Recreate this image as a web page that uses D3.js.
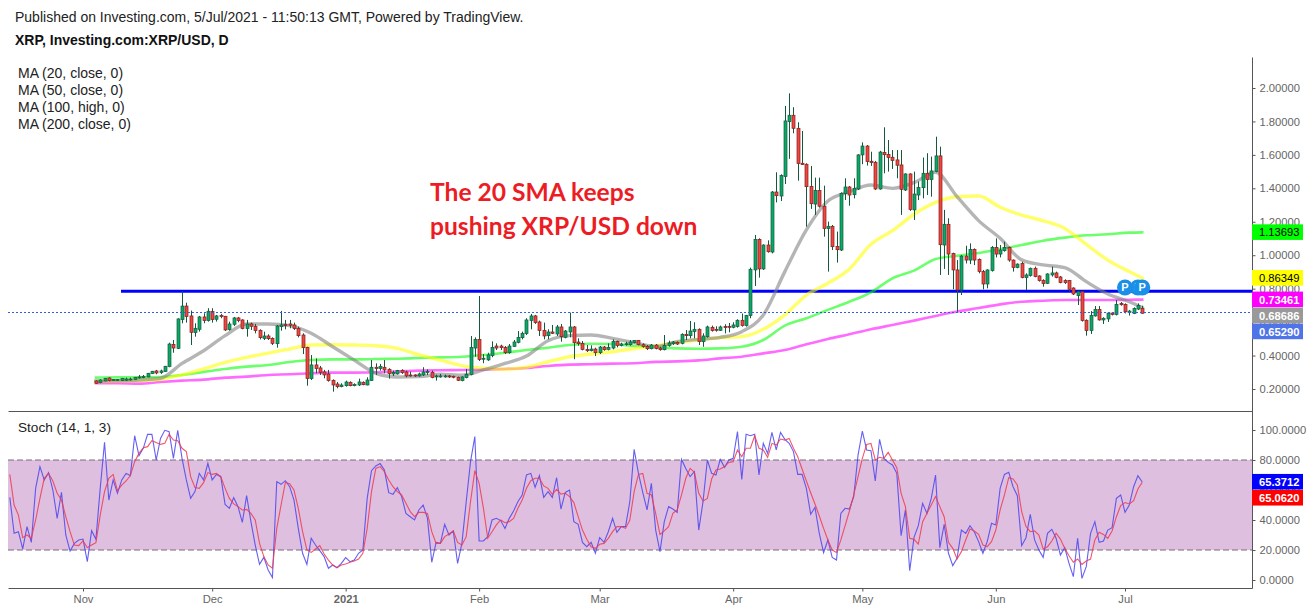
<!DOCTYPE html>
<html>
<head>
<meta charset="utf-8">
<title>XRP/USD</title>
<script src="https://cdn.jsdelivr.net/npm/d3@7"></script>
<style>
  html, body { margin: 0; padding: 0; background: #fff; }
  svg { display: block; }
  text { font-family: "Liberation Sans", Arial, sans-serif; }
</style>
</head>
<body>
<div id="chart"></div>
<script>
// candles, one per day from 4 Nov 2020
const firstCandle = new Date(Date.UTC(2020, 10, 4));
const opens = [
  .248,.238,.248,.266,.250,.250,.250,.252,.254,.256,
  .266,.268,.272,.292,.308,.298,.304,.334,.467,.443,
  .615,.696,.637,.537,.557,.631,.609,.663,.617,.639,
  .635,.555,.587,.625,.613,.561,.589,.575,.551,.503,
  .517,.503,.471,.573,.587,.589,.583,.561,.523,.449,
  .262,.344,.326,.302,.290,.252,.230,.214,.220,.240,
  .220,.224,.240,.224,.250,.330,.322,.330,.318,.290,
  .290,.312,.302,.284,.284,.278,.284,.298,.300,.272,
  .274,.274,.278,.276,.270,.250,.268,.286,.445,.497,
  .378,.374,.400,.457,.457,.449,.417,.455,.479,.507,
  .531,.609,.637,.601,.551,.519,.541,.529,.571,.509,
  .541,.571,.481,.473,.437,.429,.439,.417,.451,.437,
  .445,.485,.461,.465,.465,.477,.491,.465,.455,.441,
  .463,.445,.435,.461,.471,.479,.473,.527,.519,.543,
  .557,.483,.513,.569,.557,.551,.573,.575,.569,.573,
  .611,.579,.639,.912,1.095,.918,1.061,1.019,1.378,1.354,
  1.470,1.799,1.837,1.759,1.550,1.544,1.412,1.306,1.388,1.293,
  1.159,1.173,1.053,1.031,1.368,1.408,1.362,1.396,1.600,1.653,
  1.562,1.556,1.396,1.615,1.603,1.586,1.570,1.540,1.390,1.486,
  1.271,1.360,1.404,1.490,1.452,1.500,1.594,1.061,1.185,1.011,
  .912,.792,.995,.971,1.035,.975,.902,.828,.908,1.047,
  1.007,1.027,1.047,.971,.926,.951,.866,.878,.922,.876,
  .850,.832,.882,.894,.870,.848,.848,.804,.758,.782,
  .611,.549,.637,.676,.613,.619,.654,.646,.712,.706,
  .658,.652,.678,.682
];
const highs = [
  .252,.258,.266,.270,.260,.260,.266,.268,.268,.272,
  .284,.284,.296,.308,.314,.316,.338,.477,.493,.623,
  .784,.716,.669,.593,.637,.653,.683,.683,.643,.649,
  .637,.603,.631,.631,.617,.613,.597,.589,.557,.543,
  .527,.509,.583,.667,.613,.613,.597,.573,.533,.453,
  .403,.383,.338,.314,.314,.258,.242,.234,.250,.246,
  .234,.262,.246,.270,.373,.353,.350,.373,.324,.310,
  .314,.318,.310,.304,.288,.298,.330,.318,.310,.286,
  .290,.286,.284,.280,.274,.276,.320,.517,.509,.756,
  .409,.417,.485,.473,.465,.457,.469,.493,.547,.543,
  .623,.649,.643,.609,.597,.557,.583,.583,.589,.553,
  .657,.577,.503,.487,.463,.461,.447,.457,.457,.473,
  .497,.489,.477,.483,.493,.493,.493,.473,.463,.469,
  .469,.453,.523,.489,.487,.485,.533,.553,.607,.599,
  .563,.533,.579,.579,.575,.579,.587,.595,.599,.617,
  .651,.643,.926,1.121,1.101,1.065,1.089,1.384,1.496,1.484,
  1.893,1.968,1.885,1.795,1.743,1.550,1.534,1.464,1.464,1.416,
  1.201,1.181,1.141,1.376,1.460,1.414,1.460,1.604,1.675,1.659,
  1.619,1.564,1.624,1.765,1.689,1.629,1.629,1.629,1.490,1.490,
  1.500,1.440,1.584,1.610,1.590,1.709,1.649,1.271,1.221,1.015,
  .971,1.001,1.057,1.071,1.041,.981,.912,.916,1.055,1.101,
  1.061,1.081,1.051,.975,.951,.961,.892,.926,.932,.880,
  .856,.892,.932,.902,.876,.856,.852,.808,.788,.786,
  .617,.666,.696,.696,.629,.660,.660,.732,.720,.712,
  .672,.688,.712,.698
];
const lows = [
  .232,.234,.246,.246,.248,.248,.248,.248,.250,.254,
  .262,.264,.270,.290,.288,.290,.302,.330,.417,.439,
  .593,.597,.463,.513,.543,.593,.603,.597,.603,.623,
  .547,.549,.577,.599,.557,.513,.553,.533,.497,.493,
  .493,.463,.447,.549,.557,.563,.553,.509,.409,.220,
  .254,.294,.284,.264,.244,.184,.204,.210,.214,.216,
  .216,.218,.222,.222,.248,.284,.310,.294,.262,.278,
  .286,.290,.270,.274,.272,.274,.278,.284,.264,.250,
  .268,.268,.266,.264,.248,.246,.264,.282,.393,.367,
  .354,.368,.390,.433,.433,.409,.411,.451,.473,.497,
  .523,.557,.589,.517,.497,.497,.529,.517,.483,.503,
  .509,.378,.459,.431,.421,.425,.397,.409,.429,.431,
  .437,.449,.455,.459,.459,.473,.461,.447,.433,.437,
  .437,.429,.431,.453,.463,.463,.467,.493,.503,.503,
  .463,.453,.507,.543,.543,.547,.533,.539,.563,.567,
  .573,.573,.623,.816,.866,.912,1.015,1.011,1.316,1.324,
  1.426,1.576,1.729,1.446,1.540,1.171,1.277,1.241,1.285,1.111,
  .902,1.031,.956,1.025,1.330,1.296,1.340,1.390,1.544,1.536,
  1.534,1.390,1.392,1.490,1.500,1.516,1.460,1.241,1.384,1.265,
  1.211,1.330,1.340,1.360,1.350,1.496,.882,.918,.882,.796,
  .662,.762,.951,.947,.941,.892,.796,.802,.902,.987,
  .987,1.021,.961,.902,.922,.862,.792,.872,.868,.842,
  .812,.828,.872,.862,.832,.828,.782,.762,.702,.603,
  .519,.529,.633,.609,.589,.601,.640,.640,.698,.652,
  .639,.648,.672,.651
];
const closes = [
  .234,.254,.264,.250,.258,.258,.264,.260,.260,.270,
  .272,.276,.294,.306,.296,.308,.336,.469,.445,.619,
  .696,.633,.539,.563,.631,.609,.665,.615,.637,.633,
  .553,.589,.625,.609,.561,.589,.575,.549,.507,.517,
  .501,.473,.577,.583,.579,.581,.561,.519,.447,.262,
  .344,.322,.298,.284,.250,.224,.214,.224,.242,.220,
  .228,.242,.226,.254,.330,.322,.334,.314,.292,.298,
  .310,.298,.278,.278,.278,.290,.302,.304,.268,.278,
  .278,.278,.272,.270,.252,.272,.288,.449,.497,.376,
  .384,.404,.449,.445,.447,.417,.457,.481,.509,.533,
  .613,.637,.597,.549,.517,.541,.533,.571,.513,.547,
  .571,.477,.471,.437,.429,.439,.417,.451,.435,.449,
  .485,.461,.469,.471,.481,.491,.465,.455,.441,.463,
  .443,.435,.461,.475,.481,.469,.527,.519,.547,.557,
  .483,.517,.571,.549,.551,.571,.569,.571,.583,.611,
  .579,.639,.916,1.095,.918,1.061,1.021,1.378,1.356,1.476,
  1.803,1.837,1.759,1.548,1.542,1.410,1.308,1.388,1.293,1.159,
  1.173,1.051,1.033,1.370,1.408,1.360,1.400,1.600,1.653,1.560,
  1.554,1.396,1.617,1.601,1.584,1.566,1.538,1.394,1.486,1.273,
  1.366,1.406,1.490,1.452,1.504,1.594,1.063,1.185,1.007,.912,
  .792,.995,.971,1.035,.971,.902,.828,.912,1.047,1.007,
  1.031,1.047,.971,.926,.947,.866,.882,.922,.872,.848,
  .830,.888,.894,.866,.836,.836,.796,.768,.782,.609,
  .549,.640,.676,.613,.623,.654,.646,.706,.704,.662,
  .666,.682,.700,.6529
];

// moving averages read every 5th candle, plus the last one
const maCandles = d3.range(0, 241, 5).concat([243]);
const ma20 = [
  .248,.250,.254,.264,.353,.429,.519,.589,.589,.579,.533,.453,.373,.294,
  .272,.274,.288,.282,.314,.353,.397,.489,.519,.523,.503,.477,.453,
  .483,.497,.509,.543,.643,.902,1.151,1.324,1.380,1.420,1.400,1.434,1.496,1.350,
  1.207,1.101,.972,.942,.926,.842,.768,.722,.68686
];
const ma50 = [
  .244,.248,.250,.258,.284,.320,.359,.389,.415,.439,.463,.465,.463,.459,
  .443,.405,.373,.340,.324,.318,.330,.363,.393,.409,.423,.441,.457,
  .479,.493,.507,.513,.557,.643,.762,.832,.918,1.065,1.147,1.245,1.316,1.350,
  1.354,1.287,1.240,1.206,1.160,1.065,.971,.902,.86349
];
const ma100 = [
  .268,.270,.270,.272,.284,.302,.320,.334,.344,.361,.373,.377,.377,.379,
  .381,.385,.389,.393,.403,.417,.433,.447,.463,.471,.469,.457,.451,
  .443,.441,.443,.453,.493,.579,.623,.673,.722,.778,.862,.908,.977,.997,
  1.013,1.036,1.061,1.087,1.105,1.119,1.125,1.135,1.13693
];
const ma200 = [
  .234,.234,.232,.242,.250,.256,.268,.274,.284,.288,.294,.298,.298,.300,
  .304,.310,.312,.314,.316,.320,.326,.338,.346,.348,.352,.354,.362,
  .365,.371,.383,.393,.413,.433,.467,.499,.527,.557,.583,.609,.637,.663,
  .684,.706,.722,.728,.732,.732,.732,.734,.73461
];

// stochastic, one value per day from 15 Oct 2020
const firstStoch = new Date(Date.UTC(2020, 9, 15));
const stochK = [
  55.1,31.1,32.2,20.7,35.6,25.1,61.1,75.6,66.7,71.6,
  60,41.1,58.4,30,19.3,24.4,26.7,27.3,12.2,32.9,
  27.1,61.1,91.8,53.3,66.7,57.8,66.7,71.1,69.6,96.2,
  82.9,87.8,97.1,97.1,80,94.4,99.8,98.9,81.1,99.8,
  81.1,66.7,54.4,58.9,71.1,66.7,77.8,66.7,70.4,68.9,
  50.4,47.8,54.9,48.9,38.4,56.2,38.9,23.3,10.4,15.1,
  6.7,1.6,65.6,63.8,66.2,62.2,53.3,34.4,17.8,10.4,
  27.8,23.3,19.6,15.6,7.8,10,8.2,11.1,14.9,12.2,
  13.3,17.8,20,54.4,72.9,76,77.6,73.3,58.2,57.1,
  61.6,55.6,44.4,42.2,40,46.7,50,41.1,11.8,25.1,
  24.4,37.1,30,32.7,11.1,24.4,52.2,78.9,95.6,26,
  26,28.9,40,41.1,39.6,34.4,41.1,46,52.2,56.7,
  70,71.1,61.8,69.6,55.1,58.9,55.1,68.2,47.3,58.4,
  60,38.9,37.1,25.1,22.2,25.1,17.8,28.2,25.1,32.2,
  41.1,31.8,35.6,35.6,52.2,87.1,71.1,58.4,46.7,64.4,
  33.3,18.9,38.9,48.9,47.3,45.1,80.4,74.4,68.9,72.2,
  33.3,52.2,80,71.1,70,80.4,75.1,80,81.1,98.9,
  67.1,97.1,96.2,97.1,70,91.1,84.4,98.4,86.7,98.4,
  93.8,91.1,85.6,70.4,70.4,61.1,43.8,48.4,31.1,18.2,
  26.7,15.1,13.3,44.4,47.8,47.3,55.6,83.3,99.3,86.7,
  86.2,66,93.8,81.1,78.4,76.7,71.1,29.6,46.7,6.2,
  28.4,36.2,51.1,44.4,54.4,70,21.6,37.1,17.8,9.6,
  14.4,33.3,31.1,36.2,32.2,25.6,17.8,25.6,37.8,36.7,
  61.1,70.4,71.8,62.2,56.2,22.9,28.2,43.8,26.7,20,
  15.1,31.1,33.8,27.8,16.7,21.6,11.1,2.2,27.8,1.1,
  8.9,31.1,38.9,25.1,26,33.3,34.9,54.4,56.7,45.1,
  50,62.2,69.6,65.3712
];
const stochD = [
  70.4,50,43.3,28.2,30,27.8,40,54.4,67.8,71.1,
  66,57.8,53.3,42.2,32.2,23.3,22.9,26,21.6,23.3,
  24.9,43.3,58.9,67.8,70.4,59.6,63.3,66,69.6,78.9,
  84.4,88.2,88.9,92.9,91.6,90.4,91.1,97.1,93.3,92.9,
  87.8,85.6,68.9,61.6,61.1,64.9,71.6,70.4,71.1,68.9,
  61.1,54.4,50.7,48.9,46.7,47.1,44.4,40,24.4,15.6,
  10,7.8,34.4,50,65.1,64.2,60,47.8,32.2,20,
  18.4,20.7,22.9,17.3,13.3,10,8.2,10,10.7,11.8,
  12.7,14,17.8,34.4,58.9,74.4,75.6,72.2,66.7,62.2,
  58.9,56.7,51.1,45.6,42.2,45.1,45.1,44.4,32.2,24.4,
  24.4,28.9,30.7,32.7,25.1,23.3,28.9,52.2,72.9,64.4,
  47.8,27.8,32.2,36.7,40,38.2,38.9,41.1,47.8,53.3,
  61.1,66.2,67.8,67.8,62.7,61.1,57.1,60.4,57.3,57.8,
  55.6,51.6,42.2,33.3,27.1,22.2,21.1,23.8,24.4,27.8,
  32.2,35.6,35.6,34.4,40,58.9,70.4,71.1,57.8,56.7,
  44.4,30.4,32.7,35.6,44.4,46.7,56.7,67.8,74.4,71.8,
  57.8,52.7,54.4,67.3,73.3,74,75.6,78.4,78.9,86.7,
  82.2,87.8,87.8,96.2,87.8,86.7,81.8,91.1,90,94,
  93.3,94.4,87.8,82.2,74,66,58.2,50.7,42.7,34.4,
  26.7,20,18.4,26.7,36.2,46,56.7,68.9,81.1,90.4,
  91.1,80,81.8,81.1,85.1,80,74.9,57.8,48.9,27.8,
  27.1,24,38.9,44.4,50,55.6,48.9,42.2,25.1,21.1,
  14,18.9,26.7,34,32.7,30.4,23.3,22.2,25.6,33.3,
  46.7,56.7,68.2,67.3,63.3,45.6,35.6,32.2,32.7,30,
  20.7,22.2,26,31.1,27.3,21.1,16.2,11.8,14,10.4,
  12.7,14,26.7,31.8,30.4,27.8,32.7,42.2,49.6,51.6,
  50.7,52.9,60.7,65.062
];

const priceTicks = [0.2, 0.4, 0.6, 0.8, 1.0, 1.2, 1.4, 1.6, 1.8, 2.0];
const stochTicks = [0, 20, 40, 60, 80, 100];
const monthTicks = [[2020, 10, 'Nov'], [2020, 11, 'Dec'], [2021, 0, '2021'], [2021, 1, 'Feb'], [2021, 2, 'Mar'], [2021, 3, 'Apr'], [2021, 4, 'May'], [2021, 5, 'Jun'], [2021, 6, 'Jul']];
const supportLevel = 0.784;
const pivotCandles = [239, 242, 243];
const pivotLevel = 0.807;
const maLabels = ['MA (20, close, 0)', 'MA (50, close, 0)', 'MA (100, high, 0)', 'MA (200, close, 0)'];
const priceBadges = [
  { value: 1.13693, bg: '#00ff00', fg: '#000' },
  { value: 0.86349, bg: '#ffff00', fg: '#000' },
  { value: 0.73461, bg: '#ff00ff', fg: '#fff' },
  { value: 0.68686, bg: '#999999', fg: '#fff' },
  { value: 0.6529, bg: '#4f74e8', fg: '#fff' }
];
const stochBadges = [
  { value: 65.3712, bg: '#0000ff', fg: '#fff' },
  { value: 65.062, bg: '#ff0000', fg: '#fff' }
];

const width = 1316, height = 612;
const left = 8, right = 1252;
const paneTop = 57, paneDivider = 411, paneBottom = 588;

const svg = d3.select('#chart').append('svg').attr('width', width).attr('height', height);

const x = d3.scaleUtc()
  .domain([new Date(Date.UTC(2020, 10, 1)), new Date(Date.UTC(2021, 6, 1))])
  .range([83, 1125]);
const y = d3.scaleLinear().domain([0.2, 2]).range([389, 88]);
const yStoch = d3.scaleLinear().domain([0, 100]).range([580, 430]);

const candleDate = i => d3.utcDay.offset(firstCandle, i);
const candleX = i => Math.round(x(candleDate(i)));
const stochDate = i => d3.utcDay.offset(firstStoch, i);

// Textos de cabecera
svg.append('text').attr('x', 15).attr('y', 22).attr('font-size', 14).attr('fill', '#222')
  .text('Published on Investing.com, 5/Jul/2021 - 11:50:13 GMT, Powered by TradingView.');
svg.append('text').attr('x', 15).attr('y', 45).attr('font-size', 14).attr('font-weight', 700).attr('fill', '#111')
  .text('XRP, Investing.com:XRP/USD, D');
svg.selectAll('.ma-label').data(maLabels).enter().append('text')
  .attr('class', 'ma-label')
  .attr('x', 18).attr('y', (d, i) => 78 + i * 16.9)
  .attr('font-size', 14).attr('fill', '#222')
  .text(d => d);
svg.append('text').attr('x', 18).attr('y', 432).attr('font-size', 13.6).attr('fill', '#222').text('Stoch (14, 1, 3)');

// Marcos
const frame = [[left, paneDivider, right, paneDivider], [left, paneBottom, right, paneBottom], [right, paneTop, right, paneBottom]];
svg.selectAll('.frame').data(frame).enter().append('line')
  .attr('class', 'frame')
  .attr('x1', d => d[0] + 0.5).attr('y1', d => d[1] + 0.5)
  .attr('x2', d => d[2] + 0.5).attr('y2', d => d[3] + 0.5)
  .attr('stroke', '#555').attr('stroke-width', 1);

// Banda del estocastico
svg.append('rect')
  .attr('x', left).attr('width', right - left)
  .attr('y', yStoch(80)).attr('height', yStoch(20) - yStoch(80))
  .attr('fill', '#debfdf');
[80, 20].forEach(level => {
  svg.append('line')
    .attr('x1', left).attr('x2', right)
    .attr('y1', yStoch(level)).attr('y2', yStoch(level))
    .attr('stroke', '#7a6a7a').attr('stroke-width', 1).attr('stroke-dasharray', '6,3');
});

// Linea de soporte
svg.append('line')
  .attr('x1', 121).attr('x2', right)
  .attr('y1', y(supportLevel)).attr('y2', y(supportLevel))
  .attr('stroke', '#0000ff').attr('stroke-width', 3);

// Medias moviles
const maLine = d3.line()
  .x((d, i) => x(candleDate(maCandles[i])))
  .y(d => y(d))
  .curve(d3.curveMonotoneX);
const maSeries = [
  { values: ma200, color: '#ff00ff', w: 2.6 },
  { values: ma100, color: '#00ff00', w: 2.6 },
  { values: ma50, color: '#ffff00', w: 3.4 },
  { values: ma20, color: '#808080', w: 3.4 }
];
svg.selectAll('.ma').data(maSeries).enter().append('path')
  .attr('class', 'ma')
  .attr('d', d => maLine(d.values))
  .attr('fill', 'none')
  .attr('stroke', d => d.color)
  .attr('stroke-opacity', 0.58)
  .attr('stroke-width', d => d.w)
  .attr('stroke-linecap', 'square')
  .attr('stroke-linejoin', 'round');

// Velas
const candles = svg.selectAll('.candle').data(closes).enter().append('g').attr('class', 'candle');
candles.append('line')
  .attr('x1', (d, i) => candleX(i) + 0.5).attr('x2', (d, i) => candleX(i) + 0.5)
  .attr('y1', (d, i) => y(highs[i])).attr('y2', (d, i) => y(lows[i]))
  .attr('stroke', '#14593d').attr('stroke-width', 1);
candles.append('rect')
  .attr('x', (d, i) => candleX(i) - 1)
  .attr('width', 3)
  .attr('y', (d, i) => y(Math.max(opens[i], closes[i])))
  .attr('height', (d, i) => Math.max(1, Math.abs(y(opens[i]) - y(closes[i]))))
  .attr('fill', (d, i) => closes[i] >= opens[i] ? '#09a866' : '#f2453d')
  .attr('stroke', (d, i) => closes[i] >= opens[i] ? '#14593d' : '#7d1f1f')
  .attr('stroke-width', 0.7);

// Precio actual
const lastY = Math.floor(y(closes[closes.length - 1])) - 0.5;
svg.append('line')
  .attr('x1', left).attr('x2', right)
  .attr('y1', lastY).attr('y2', lastY)
  .attr('stroke', '#2f5fe8').attr('stroke-width', 1).attr('stroke-dasharray', '2,2');

// Pivotes
const pivots = svg.selectAll('.pivot').data(pivotCandles).enter().append('g')
  .attr('class', 'pivot')
  .attr('transform', d => `translate(${x(candleDate(d))},${y(pivotLevel)})`);
pivots.append('circle').attr('r', 8).attr('fill', '#1a8fe8');
pivots.append('text')
  .attr('text-anchor', 'middle').attr('y', 4)
  .attr('font-size', 11).attr('font-weight', 700).attr('fill', '#fff')
  .text('P');

// Estocastico
const stochLine = d3.line().x((d, i) => x(stochDate(i))).y(d => yStoch(d));
svg.append('path').attr('d', stochLine(stochK)).attr('fill', 'none').attr('stroke', '#4a44f0').attr('stroke-opacity', 0.85).attr('stroke-width', 1.1);
svg.append('path').attr('d', stochLine(stochD)).attr('fill', 'none').attr('stroke', '#f03a50').attr('stroke-opacity', 0.85).attr('stroke-width', 1.1);

// Eje Y
const priceAxis = svg.append('g')
  .attr('transform', `translate(${right + 0.5},0)`)
  .call(d3.axisRight(y).tickValues(priceTicks).tickFormat(d3.format('.5f')).tickSize(3).tickSizeOuter(0));
const stochAxis = svg.append('g')
  .attr('transform', `translate(${right + 0.5},0)`)
  .call(d3.axisRight(yStoch).tickValues(stochTicks).tickFormat(d3.format('.4f')).tickSize(3).tickSizeOuter(0));
[priceAxis, stochAxis].forEach(axis => {
  axis.select('.domain').remove();
  axis.selectAll('line').attr('stroke', '#555');
  axis.selectAll('text')
    .attr('x', 7)
    .style('font-family', '"Liberation Sans", Arial, sans-serif')
    .style('font-size', '11.2px')
    .style('fill', '#666');
});

// Eje X
const timeAxis = svg.append('g')
  .attr('transform', `translate(0,${paneBottom + 0.5})`)
  .call(d3.axisBottom(x)
    .tickValues(monthTicks.map(d => new Date(Date.UTC(d[0], d[1], 1))))
    .tickFormat((d, i) => monthTicks[i][2])
    .tickSize(3).tickSizeOuter(0));
timeAxis.select('.domain').remove();
timeAxis.selectAll('line').attr('stroke', '#555');
timeAxis.selectAll('text')
  .attr('y', 7)
  .style('font-family', '"Liberation Sans", Arial, sans-serif')
  .style('font-size', '11.2px')
  .style('fill', '#666')
  .style('font-weight', (d, i) => monthTicks[i][2] === '2021' ? 700 : 400);

// Etiquetas de precio, apiladas si se solapan
function drawBadges(list, scale, fmt) {
  const h = 16;
  let prev = -Infinity;
  list.forEach(b => {
    const mid = Math.max(scale(b.value), prev + h);
    prev = mid;
    svg.append('rect')
      .attr('x', right).attr('y', mid - h / 2)
      .attr('width', 51).attr('height', h - 0.4)
      .attr('fill', b.bg);
    svg.append('text')
      .attr('x', right + 7).attr('y', mid + 4)
      .attr('font-size', 11.2).attr('font-weight', b.fg === '#fff' ? 700 : 400)
      .attr('fill', b.fg)
      .text(fmt(b.value));
  });
}
drawBadges(priceBadges, y, d3.format('.5f'));
drawBadges(stochBadges, yStoch, d3.format('.4f'));

// Anotacion
const note = ['The 20 SMA keeps', 'pushing XRP/USD down'];
svg.selectAll('.note').data(note).enter().append('text')
  .attr('class', 'note')
  .attr('x', 430).attr('y', (d, i) => 201 + i * 34)
  .attr('font-size', 24.6).attr('font-weight', 700).attr('fill', '#ed1c24')
  .style('font-family', 'Lato, sans-serif')
  .text(d => d);
</script>
</body>
</html>
